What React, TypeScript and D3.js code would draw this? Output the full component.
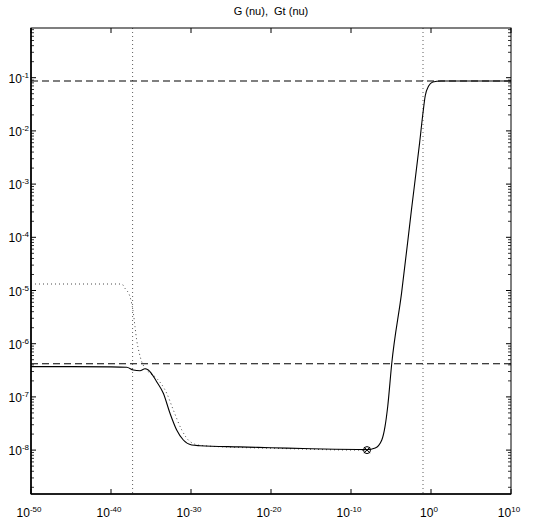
import React from 'react';
import * as d3 from 'd3';

// log10 exponents of tick labels
const xTickExps = [-50, -40, -30, -20, -10, 0, 10];
const yTickExps = [-8, -7, -6, -5, -4, -3, -2, -1];

// G(nu) curve: log10(nu), log10(G)
const gLogNu = [-50, -45, -40, -38.04, -37.21, -36.375, -35.75, -35.34, -34.29, -33.46, -32.625, -31.79, -30.96, -29.91, -28.875, -24, -20, -16, -12, -8, -6.97, -6.15, -5.74, -5.41, -4.91, -3.68, -2.44, -1.42, -1.0, -0.72, -0.3, 0.23, 1.26, 5, 10];
const gLogVal = [-6.43, -6.43, -6.435, -6.444, -6.494, -6.507, -6.47, -6.494, -6.714, -6.932, -7.308, -7.622, -7.81, -7.904, -7.917, -7.94, -7.955, -7.97, -7.985, -7.99, -7.96, -7.81, -7.55, -7.18, -6.376, -5.05, -3.48, -2.22, -1.66, -1.34, -1.156, -1.08, -1.062, -1.062, -1.062];

// Gt(nu) curve: log10(nu), log10(Gt)
const gtLogNu = [-49.5, -45, -38.66, -38.25, -37.625, -37.2, -37.0, -36.79, -36.46, -36.16, -35.875, -35.34, -34.29, -33.04, -32.21, -31.16, -30.125, -28.875, -24, -20, -16, -12, -8];
const gtLogVal = [-4.878, -4.878, -4.878, -4.96, -5.117, -5.43, -5.68, -5.93, -6.18, -6.34, -6.43, -6.526, -6.65, -6.93, -7.246, -7.62, -7.84, -7.91, -7.95, -7.965, -7.98, -7.995, -8.0];

// reference lines
const refLevels = [0.0867, 4.2e-7];
const refNuLog = [-37.3, -1];
// marker point
const markerNuLog = [-8];
const markerValLog = [-8];

const W = 534, H = 525;
const L = 31, R = 511, T = 28, B = 494;

export default function App() {
  const x = d3.scaleLog().domain([1e-50, 1e10]).range([L, R]);
  const y = d3.scaleLog().domain([10 ** -8.825, 10 ** -0.066]).range([B, T]);

  const line = d3.line<[number, number]>()
    .x(d => x(10 ** d[0]))
    .y(d => y(10 ** d[1]))
    .curve(d3.curveMonotoneX);

  const gPts: [number, number][] = gLogNu.map((v, i) => [v, gLogVal[i]]);
  const gtPts: [number, number][] = gtLogNu.map((v, i) => [v, gtLogVal[i]]);

  const minorY: number[] = [];
  for (let k = -9; k <= 0; k++) {
    for (let m = 2; m <= 9; m++) {
      const v = m * 10 ** k;
      const py = y(v);
      if (py >= T && py <= B) minorY.push(v);
    }
  }

  const font = 'Liberation Sans, Arial, Helvetica, sans-serif';

  return (
    <svg width={W} height={H} style={{ position: 'absolute', left: 0, top: 0, background: '#fff' }} fontFamily={font}>
      <rect x={0} y={0} width={W} height={H} fill="#fff" />
      <text x={(L + R) / 2} y={15} fontSize={11} textAnchor="middle" style={{ whiteSpace: 'pre' }}>G (nu),  Gt (nu)</text>

      {/* reference lines */}
      {refNuLog.map((v, i) => (
        <line key={'v' + i} x1={x(10 ** v)} x2={x(10 ** v)} y1={T} y2={B} stroke="#333" strokeWidth={0.8} strokeDasharray="1,3" />
      ))}
      {refLevels.map((v, i) => (
        <line key={'h' + i} x1={L} x2={R} y1={y(v)} y2={y(v)} stroke="#000" strokeWidth={1.2} strokeDasharray="7,4" />
      ))}

      {/* curves */}
      <path d={line(gtPts) || ''} fill="none" stroke="#333" strokeWidth={0.9} strokeDasharray="1,3" />
      <path d={line(gPts) || ''} fill="none" stroke="#000" strokeWidth={1.1} />

      {/* marker */}
      {markerNuLog.map((v, i) => {
        const cx = x(10 ** v), cy = y(10 ** markerValLog[i]);
        return (
          <g key={'m' + i} stroke="#000" strokeWidth={1} fill="none">
            <circle cx={cx} cy={cy} r={3.5} />
            <line x1={cx - 3} y1={cy - 3} x2={cx + 3} y2={cy + 3} />
            <line x1={cx - 3} y1={cy + 3} x2={cx + 3} y2={cy - 3} />
          </g>
        );
      })}

      {/* frame */}
      <rect x={L} y={T} width={R - L} height={B - T} fill="none" stroke="#000" strokeWidth={1} />
      <line x1={L} x2={L} y1={T} y2={B} stroke="#000" strokeWidth={1.6} />
      <line x1={L} x2={R} y1={B} y2={B} stroke="#000" strokeWidth={1.6} />

      {/* x ticks */}
      {xTickExps.map(e => {
        const px = x(10 ** e);
        return (
          <g key={'xt' + e}>
            <line x1={px} x2={px} y1={B} y2={B - 5} stroke="#000" strokeWidth={1} />
            <line x1={px} x2={px} y1={T} y2={T + 5} stroke="#000" strokeWidth={1} />
            <text x={px - 2} y={517} fontSize={12} textAnchor="middle">
              10<tspan dy={-5} fontSize={8}>{e}</tspan>
            </text>
          </g>
        );
      })}

      {/* y ticks */}
      {yTickExps.map(e => {
        const py = y(10 ** e);
        return (
          <g key={'yt' + e}>
            <line x1={L} x2={L + 5} y1={py} y2={py} stroke="#000" strokeWidth={1} />
            <line x1={R} x2={R - 5} y1={py} y2={py} stroke="#000" strokeWidth={1} />
            <text x={29} y={py + 5} fontSize={12} textAnchor="end">
              10<tspan dy={-5} fontSize={8}>{e}</tspan>
            </text>
          </g>
        );
      })}
      {minorY.map((v, i) => {
        const py = y(v);
        return (
          <g key={'my' + i}>
            <line x1={L} x2={L + 3} y1={py} y2={py} stroke="#000" strokeWidth={0.8} />
            <line x1={R} x2={R - 3} y1={py} y2={py} stroke="#000" strokeWidth={0.8} />
          </g>
        );
      })}
    </svg>
  );
}
